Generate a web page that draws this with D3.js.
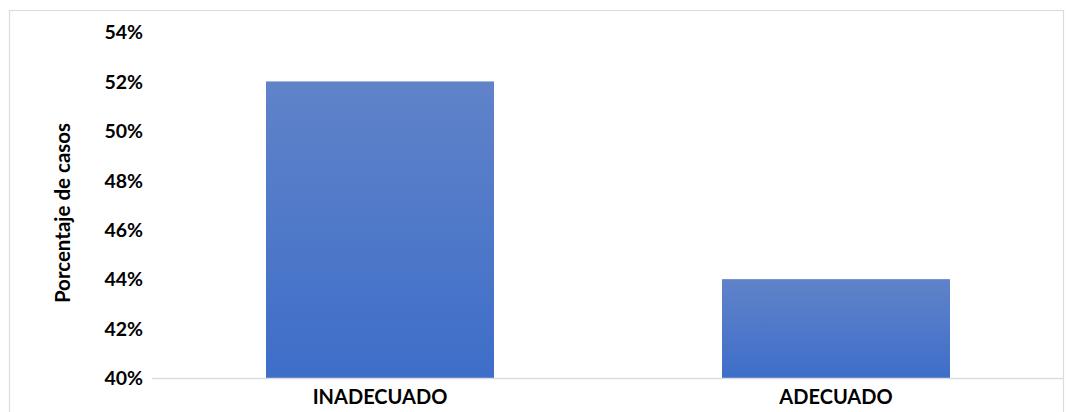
<!DOCTYPE html>
<html>
<head>
<meta charset="utf-8">
<script src="https://cdn.jsdelivr.net/npm/d3@7"></script>
<style>
  html, body { margin: 0; padding: 0; background: #fff; }
  svg { display: block; }
  text { font-family: Lato, "Open Sans", sans-serif; font-weight: bold; fill: #000; }
</style>
</head>
<body>
<svg id="chart" width="1073" height="412"></svg>
<script>
// Share of cases by classification
const categories = ["INADECUADO", "ADECUADO"];
const values = [52, 44];
const tickValues = [40, 42, 44, 46, 48, 50, 52, 54];
const axisTitle = "Porcentaje de casos";

const svg = d3.select("#chart");
const plot = { left: 152, right: 1064, top: 32, bottom: 378 };

// chart area frame
svg.append("rect")
  .attr("x", 9.5).attr("y", 10.5)
  .attr("width", 1054).attr("height", 420)
  .attr("fill", "#fff")
  .attr("stroke", "#d9dde3").attr("stroke-width", 1.2);

const x = d3.scaleBand()
  .domain(categories)
  .range([plot.left, plot.right])
  .paddingInner(0.5)
  .paddingOuter(0.25);

const y = d3.scaleLinear()
  .domain([40, 54])
  .range([plot.bottom, plot.top]);

// vertical gradient for bars
const defs = svg.append("defs");
const grad = defs.append("linearGradient")
  .attr("id", "barFill")
  .attr("x1", 0).attr("y1", 0).attr("x2", 0).attr("y2", 1);
grad.append("stop").attr("offset", "0%").attr("stop-color", "#6083c9");
grad.append("stop").attr("offset", "100%").attr("stop-color", "#3e6ec9");

svg.append("g")
  .selectAll("rect")
  .data(categories)
  .join("rect")
  .attr("x", d => x(d))
  .attr("y", (d, i) => y(values[i]))
  .attr("width", x.bandwidth())
  .attr("height", (d, i) => y(40) - y(values[i]))
  .attr("fill", "url(#barFill)");

// baseline
svg.append("line")
  .attr("x1", plot.left).attr("x2", plot.right)
  .attr("y1", y(40) + 0.5).attr("y2", y(40) + 0.5)
  .attr("stroke", "#d9dde3").attr("stroke-width", 1.5);

// y axis labels
const yAxis = d3.axisLeft(y)
  .tickValues(tickValues)
  .tickFormat(d => d + "%")
  .tickSize(0)
  .tickPadding(0);
const gy = svg.append("g")
  .attr("transform", `translate(${143},0)`)
  .call(yAxis);
gy.select(".domain").remove();
gy.selectAll("text")
  .attr("font-size", 19.5)
  .attr("font-family", "Lato, 'Open Sans', sans-serif")
  .attr("font-weight", "bold")
  .attr("fill", "#000")
  .attr("dy", "0.35em");

// x axis labels
const xAxis = d3.axisBottom(x).tickSize(0).tickPadding(0);
const gx = svg.append("g")
  .attr("transform", `translate(0,${397})`)
  .call(xAxis);
gx.select(".domain").remove();
gx.selectAll("text")
  .attr("font-size", 20)
  .attr("font-family", "Lato, 'Open Sans', sans-serif")
  .attr("font-weight", "bold")
  .attr("fill", "#000")
  .attr("dy", "0.35em");

// y axis title
svg.append("text")
  .attr("transform", `translate(63,${213}) rotate(-90)`)
  .attr("text-anchor", "middle")
  .attr("dy", "0.35em")
  .attr("font-size", 20.5)
  .text(axisTitle);
</script>
</body>
</html>
